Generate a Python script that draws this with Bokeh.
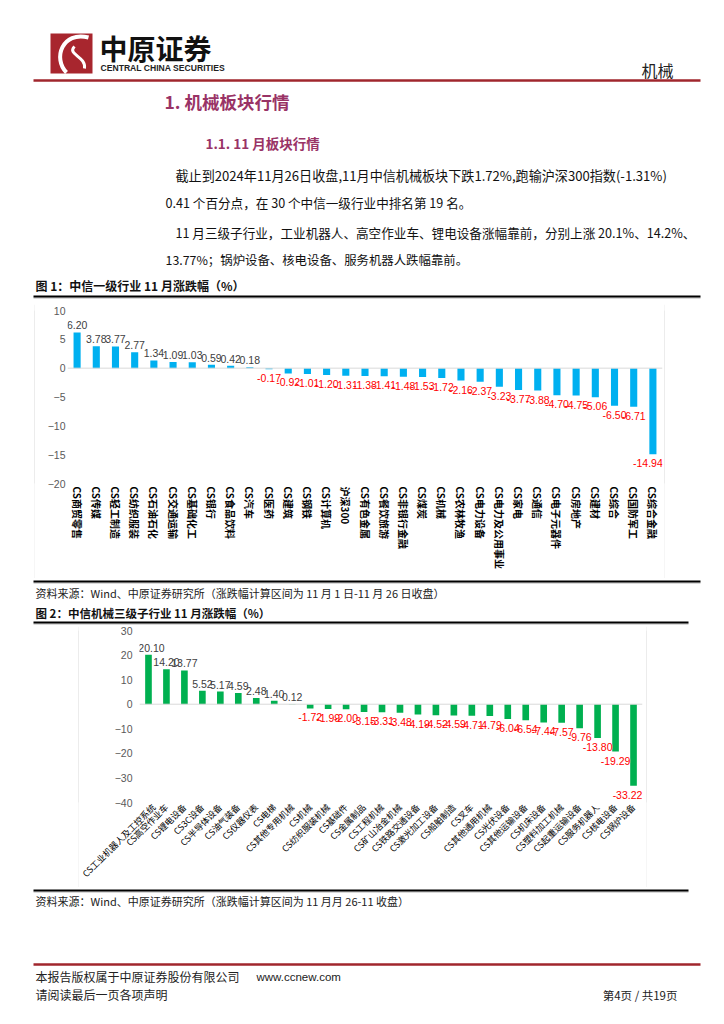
from bokeh.plotting import figure
from bokeh.models import Range1d, FactorRange, FixedTicker, Span, ColumnDataSource, Spacer, LabelSet
from bokeh.layouts import column, row
from bokeh.core.properties import value
from bokeh.embed import file_html
from bokeh.resources import INLINE

CJK = "Noto Sans CJK SC"
NUM = "Liberation Sans"

# ---------------- data ----------------
cats1 = ["CS商贸零售", "CS传媒", "CS轻工制造", "CS纺织服装", "CS石油石化", "CS交通运输", "CS基础化工",
         "CS银行", "CS食品饮料", "CS汽车", "CS医药", "CS建筑", "CS钢铁", "CS计算机", "沪深300",
         "CS有色金属", "CS餐饮旅游", "CS非银行金融", "CS煤炭", "CS机械", "CS农林牧渔", "CS电力设备",
         "CS电力及公用事业", "CS家电", "CS通信", "CS电子元器件", "CS房地产", "CS建材", "CS综合",
         "CS国防军工", "CS综合金融"]
vals1 = [6.20, 3.78, 3.77, 2.77, 1.34, 1.09, 1.03, 0.59, 0.42, 0.18, -0.17, -0.92, -1.01, -1.20,
         -1.31, -1.38, -1.41, -1.48, -1.53, -1.72, -2.16, -2.37, -3.23, -3.77, -3.88, -4.70, -4.75,
         -5.06, -6.50, -6.71, -14.94]
yticks1 = [-20, -15, -10, -5, 0, 5, 10]

cats2 = ["CS工业机器人及工控系统", "CS高空作业车", "CS锂电设备", "CS3C设备", "CS半导体设备", "CS油气装备",
         "CS仪器仪表", "CS电梯", "CS其他专用机械", "CS机械", "CS纺织服装机械", "CS基础件", "CS金属制品",
         "CS工程机械", "CS矿山冶金机械", "CS铁路交通设备", "CS激光加工设备", "CS船舶制造", "CS叉车",
         "CS其他通用机械", "CS光伏设备", "CS其他运输设备", "CS机床设备", "CS塑料加工机械", "CS起重运输设备",
         "CS服务机器人", "CS核电设备", "CS锅炉设备"]
vals2 = [20.10, 14.20, 13.77, 5.52, 5.17, 4.59, 2.48, 1.40, 0.12, -1.72, -1.99, -2.00, -3.15, -3.31,
         -3.48, -4.19, -4.52, -4.59, -4.71, -4.79, -6.04, -6.54, -7.44, -7.57, -9.76, -13.80, -19.29,
         -33.22]
yticks2 = [-40, -30, -20, -10, 0, 10, 20, 30]

para = [
    "截止到2024年11月26日收盘,11月中信机械板块下跌1.72%,跑输沪深300指数(-1.31%)",
    "0.41 个百分点，在 30 个中信一级行业中排名第 19 名。",
    "11 月三级子行业，工业机器人、高空作业车、锂电设备涨幅靠前，分别上涨 20.1%、14.2%、",
    "13.77%；锅炉设备、核电设备、服务机器人跌幅靠前。",
]

RED_LINE = "#A0262D"
TITLE_C = "#993366"
BOX_C = "#D9D9D9"
PAGE_W = 716


# ---------------- helpers ----------------
def page_fig(y0, y1):
    p = figure(width=PAGE_W, height=y1 - y0, x_range=Range1d(0, PAGE_W), y_range=Range1d(y1, y0),
               x_axis_type=None, y_axis_type=None, output_backend="svg",
               toolbar_location=None, min_border=0)
    p.outline_line_color = None
    return p


def txt(p, x, y, s, size, color="#000000", bold=False, align="left", font=CJK):
    p.text(x=[x], y=[y], text=[s], text_font=value(font), text_font_size=f"{size}px",
           text_color=color, text_font_style="bold" if bold else "normal",
           text_align=align, text_baseline="middle")


def hline(p, x0, x1, y, color, w):
    p.line([x0, x1], [y, y], line_color=color, line_width=w)


def line_fig(w, h):
    p = figure(width=w, height=h, x_axis_type=None, y_axis_type=None, output_backend="svg",
               toolbar_location=None, min_border=0, background_fill_color=BOX_C,
               border_fill_color=BOX_C)
    p.outline_line_color = None
    return p


def boxed(inner, left_space, w, h):
    right_space = PAGE_W - left_space - w
    frame = column(line_fig(w, 1),
                   row(line_fig(1, h - 2), inner, line_fig(1, h - 2)),
                   line_fig(w, 1))
    return row(Spacer(width=left_space, height=h), frame, Spacer(width=right_space, height=h))


def bar_chart(cats, vals, color, yr, ticks, w, h, mb, orient, xsize, xbold, standoff_y,
              first_shift, last_shift):
    p = figure(width=w, height=h, x_range=FactorRange(factors=cats), y_range=Range1d(*yr),
               output_backend="svg", toolbar_location=None,
               min_border_left=mb[0], min_border_right=mb[1],
               min_border_top=mb[2], min_border_bottom=mb[3])
    p.outline_line_color = None
    p.xgrid.visible = False
    p.ygrid.visible = False
    p.vbar(x=cats, top=vals, width=0.37, fill_color=color, line_color=None)
    p.add_layout(Span(location=0, dimension="width", line_color=BOX_C, line_width=1))

    n = len(cats)
    xo = [first_shift if i == 0 else (last_shift if i == n - 1 else 0) for i in range(n)]
    pos = [(c, v, o) for c, v, o in zip(cats, vals, xo) if v >= 0]
    neg = [(c, v, o) for c, v, o in zip(cats, vals, xo) if v < 0]
    # LabelSet offsets: positive y_offset moves the text up
    for items, col, base, yoff in ((pos, "#404040", "bottom", 3), (neg, "#FF0000", "top", -5)):
        src = ColumnDataSource(dict(x=[c for c, _, _ in items], y=[v for _, v, _ in items],
                                    t=["%.2f" % v for _, v, _ in items],
                                    xo=[o for _, _, o in items]))
        p.add_layout(LabelSet(x="x", y="y", text="t", source=src, x_offset="xo", y_offset=yoff,
                              text_font=value(NUM), text_font_size=value("10.5px"),
                              text_color=value(col), text_align="center", text_baseline=base))

    ya = p.yaxis[0]
    ya.ticker = FixedTicker(ticks=ticks)
    ya.axis_line_color = None
    ya.major_tick_line_color = None
    ya.minor_tick_line_color = None
    ya.major_tick_out = 0
    ya.major_label_standoff = standoff_y
    ya.major_label_text_font = NUM
    ya.major_label_text_font_size = "10.5px"
    ya.major_label_text_color = "#595959"

    xa = p.xaxis[0]
    xa.axis_line_color = None
    xa.major_tick_line_color = None
    xa.minor_tick_line_color = None
    xa.major_tick_out = 0
    xa.major_label_standoff = 3
    xa.major_label_orientation = orient
    xa.major_label_text_font = CJK
    xa.major_label_text_font_size = xsize
    xa.major_label_text_font_style = "bold" if xbold else "normal"
    xa.major_label_text_color = "#000000"
    return p


# ---------------- header ----------------
hdr = page_fig(0, 303)
hdr.quad(left=[50], right=[92], top=[33], bottom=[73], fill_color="#A8262E", line_color=None)
hdr.bezier(x0=[88], y0=[37], x1=[66], y1=[72], cx0=[62], cy0=[30], cx1=[52], cy1=[58],
           line_color="white", line_width=4)
hdr.bezier(x0=[74], y0=[46], x1=[84], y1=[68], cx0=[66], cy0=[54], cx1=[86], cy1=[56],
           line_color="white", line_width=3)
txt(hdr, 99, 47.5, "中原证券", 28, "#111111", bold=True)
txt(hdr, 100, 67.5, "CENTRAL CHINA SECURITIES", 8.6, "#222222", bold=True, font=NUM)
txt(hdr, 641, 69, "机械", 16, "#222222")
hline(hdr, 33, 700, 80, RED_LINE, 2.5)
txt(hdr, 164, 101, "1. 机械板块行情", 17.5, TITLE_C, bold=True)
txt(hdr, 205, 142, "1.1. 11 月板块行情", 13.5, TITLE_C, bold=True)
txt(hdr, 175, 175, para[0], 13.1, "#111111")
txt(hdr, 165, 202, para[1], 12.6, "#111111")
txt(hdr, 175, 232, para[2], 12.6, "#111111")
txt(hdr, 165, 259, para[3], 12.4, "#111111")
txt(hdr, 35, 285, "图 1：中信一级行业 11 月涨跌幅（%）", 12, "#111111", bold=True)
hline(hdr, 33, 700, 297.5, "#CCCCCC", 1.5)
hline(hdr, 33, 700, 296, "#000000", 2)

# ---------------- chart 1 (box x 34..665, y 303..579) ----------------
ch1 = bar_chart(cats1, vals1, "#00B0F0", (-20, 10), yticks1, 629, 274,
                (32, 2, 6, 95), "vertical", "10px", True, 2, 0, -5)
row1 = boxed(ch1, 34, 631, 276)

# ---------------- middle ----------------
mid = page_fig(579, 625)
hline(mid, 33, 700, 582.5, "#CCCCCC", 1.5)
hline(mid, 33, 700, 581, "#000000", 2)
txt(mid, 35, 592, "资料来源：Wind、中原证券研究所（涨跌幅计算区间为 11 月 1 日-11 月 26 日收盘）", 11, "#222222")
txt(mid, 35, 612, "图 2：中信机械三级子行业 11 月涨跌幅（%）", 11.5, "#111111", bold=True)
hline(mid, 33, 688, 623.5, "#CCCCCC", 1.5)
hline(mid, 33, 688, 622, "#000000", 2)

# ---------------- chart 2 (box x 78..647, y 625..888) ----------------
ch2 = bar_chart(cats2, vals2, "#00B050", (-40, 30), yticks2, 567, 261,
                (60, 4, 4, 81), 0.785, "8.8px", False, 7, 3, -6)
row2 = boxed(ch2, 78, 569, 263)

# ---------------- bottom ----------------
bot = page_fig(888, 1016)
hline(bot, 33, 688, 891.5, "#CCCCCC", 1.5)
hline(bot, 33, 688, 890, "#000000", 2)
txt(bot, 35, 900, "资料来源：Wind、中原证券研究所（涨跌幅计算区间为 11 月月 26-11 收盘）", 11, "#222222")
hline(bot, 33, 700, 964, RED_LINE, 2.5)
txt(bot, 35, 976, "本报告版权属于中原证券股份有限公司", 12, "#222222")
txt(bot, 256, 976, "www.ccnew.com", 11.5, "#222222", font=NUM)
txt(bot, 35, 994, "请阅读最后一页各项声明", 12, "#222222")
txt(bot, 677, 994, "第4页 / 共19页", 11.5, "#222222", align="right")

page = column(hdr, row1, mid, row2, bot)
open("out.html", "w").write(file_html(page, INLINE))
